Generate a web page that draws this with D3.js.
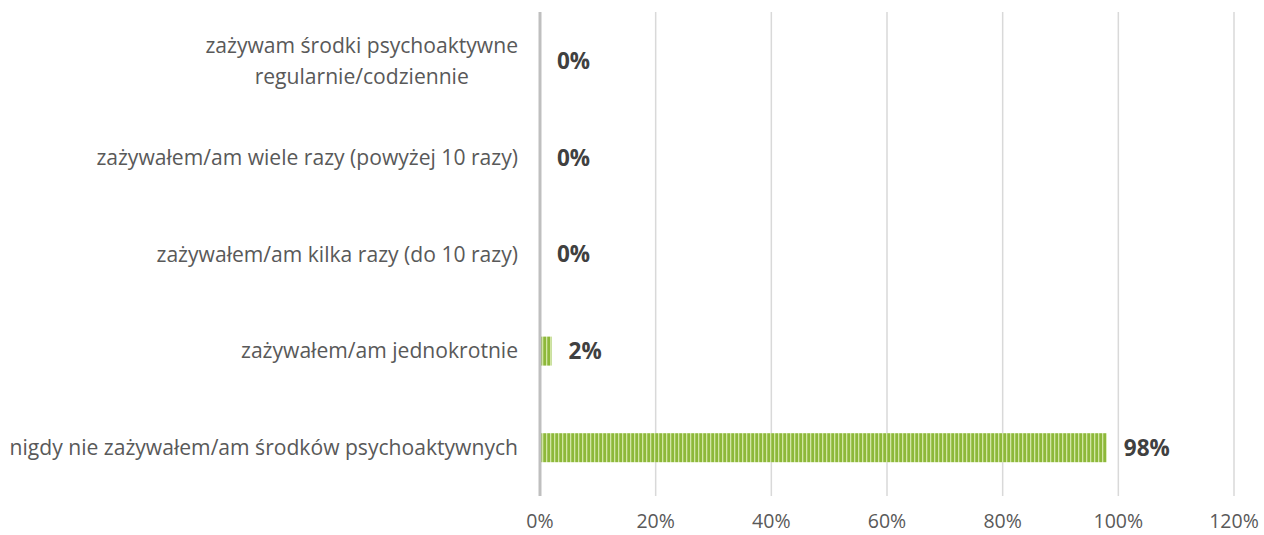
<!DOCTYPE html>
<html><head><meta charset="utf-8">
<script src="https://cdn.jsdelivr.net/npm/d3@7"></script>
<style>body{margin:0;background:#fff}svg{display:block}</style>
</head><body>
<svg id="c" width="1264" height="535"></svg>
<script>
const categories = [
  ["zażywam środki psychoaktywne", "regularnie/codziennie"],
  ["zażywałem/am wiele razy (powyżej 10 razy)"],
  ["zażywałem/am kilka razy (do 10 razy)"],
  ["zażywałem/am jednokrotnie"],
  ["nigdy nie zażywałem/am środków psychoaktywnych"]
];
const values = [0, 0, 0, 0.02, 0.98];
const valueLabels = ["0%", "0%", "0%", "2%", "98%"];
const ticks = [0, 0.2, 0.4, 0.6, 0.8, 1.0, 1.2];

const svg = d3.select("#c");
const font = "'Open Sans', 'Liberation Sans', sans-serif";
const x = d3.scaleLinear().domain([0, 1.2]).range([540, 1234]);
const y = d3.scaleBand().domain(d3.range(categories.length)).range([13, 496]).paddingInner(0.7).paddingOuter(0.35);

const defs = svg.append("defs");
const pat = defs.append("pattern").attr("id","stripes").attr("patternUnits","userSpaceOnUse")
  .attr("width",4).attr("height",10);
pat.append("rect").attr("width",4).attr("height",10).attr("fill","#8db83a");
pat.append("rect").attr("x",2).attr("width",1.3).attr("height",10).attr("fill","#d2e6a4");

// grid
svg.append("g").selectAll("line").data(ticks.slice(1)).join("line")
  .attr("x1", d=>x(d)).attr("x2", d=>x(d)).attr("y1", 12).attr("y2", 496)
  .attr("stroke","#d9d9d9").attr("stroke-width",1.5);

// bars
svg.append("g").selectAll("rect").data(values).join("rect")
  .attr("x", x(0)).attr("y", (d,i)=>y(i)).attr("height", y.bandwidth())
  .attr("width", d=>Math.max(0, x(d)-x(0))).attr("fill","url(#stripes)");

// axis line
svg.append("line").attr("x1",x(0)).attr("x2",x(0)).attr("y1",12).attr("y2",496)
  .attr("stroke","#bfbfbf").attr("stroke-width",3);

// value labels
svg.append("g").selectAll("text").data(values).join("text")
  .attr("x", d=>x(d)+17).attr("y", (d,i)=>y(i)+y.bandwidth()/2)
  .attr("dy","0.35em").attr("font-family",font).attr("font-weight","bold")
  .attr("font-size",22.5).attr("fill","#404040").text((d,i)=>valueLabels[i]);

// category labels
const cg = svg.append("g");
categories.forEach((lines,i)=>{
  const cy = y(i)+y.bandwidth()/2;
  const t = cg.append("text").attr("text-anchor","middle").attr("font-family",font)
    .attr("font-size",21.1).attr("fill","#595959");
  const n = lines.length;
  lines.forEach((l,k)=>{
    t.append("tspan").attr("x",0).attr("y", cy + (k-(n-1)/2)*31).attr("dy","0.35em").text(l);
  });
  const bb = t.node().getBBox();
  t.attr("transform", `translate(${518 - bb.width/2},0)`);
});

// x tick labels
svg.append("g").selectAll("text").data(ticks).join("text")
  .attr("x", d=>x(d)).attr("y", 528).attr("text-anchor","middle")
  .attr("font-family",font).attr("font-size",19.5).attr("fill","#595959")
  .text(d=>d3.format(".0%")(d));
</script>
</body></html>
